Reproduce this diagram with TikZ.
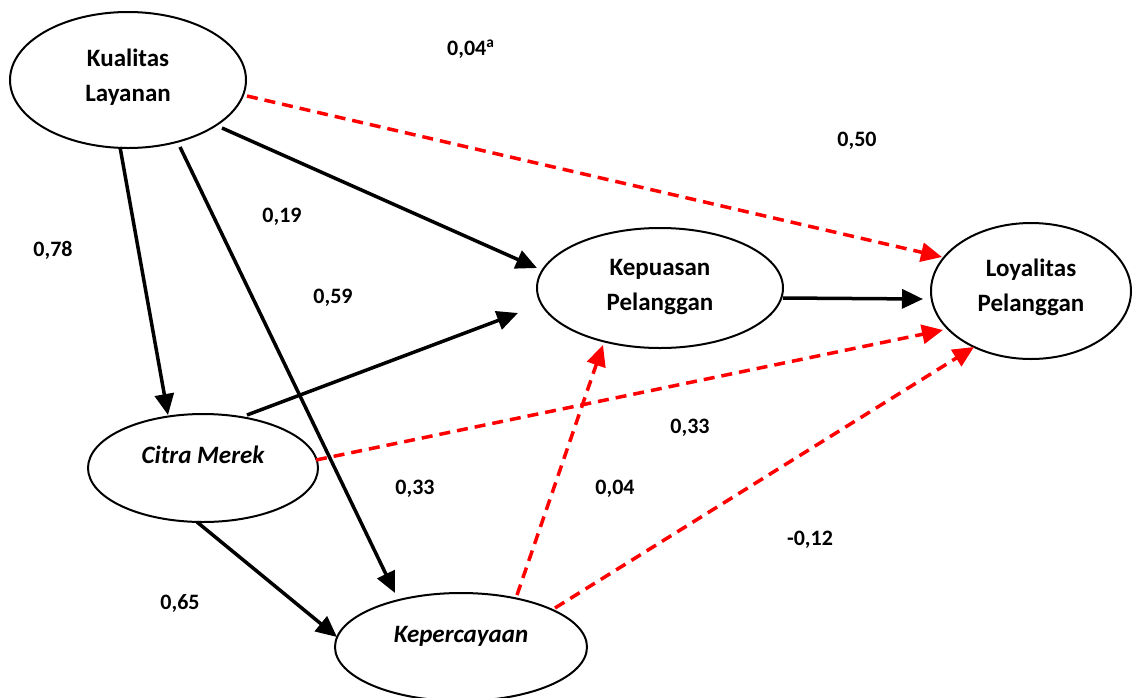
\documentclass[tikz,border=0pt]{standalone}
\usepackage{fontspec}
\setmainfont{Carlito}
\usetikzlibrary{shapes.geometric,arrows.meta,calc}
\begin{document}
\begin{tikzpicture}[x=1pt,y=-1pt,
  ell/.style={draw,ellipse,line width=2pt,inner sep=0pt},
  ttl/.style={font=\fontsize{25}{35}\selectfont\bfseries,align=center,inner sep=0pt},
  coef/.style={font=\fontsize{22}{24}\selectfont\bfseries,inner sep=0pt,anchor=base},
  solidarr/.style={line width=3.5pt,-{Triangle[length=21pt,width=19pt]}},
  dasharr/.style={line width=3.5pt,red,dash pattern=on 11pt off 7pt,-{Triangle[length=21pt,width=19pt]}}]
\useasboundingbox (0,0) rectangle (1133,697);
% ellipses
\node[ell,minimum width=236pt,minimum height=136pt] (kl) at (128,80) {};
\node[ell,minimum width=246pt,minimum height=120pt] (kp) at (660,288) {};
\node[ell,minimum width=200pt,minimum height=136pt] (ly) at (1031,291) {};
\node[ell,minimum width=230pt,minimum height=108pt] (cm) at (203,468) {};
\node[ell,minimum width=252pt,minimum height=108pt] (kc) at (461,647) {};
% texts
\node[ttl] (klt) at (128,77) {Kualitas\\Layanan};
\node[ttl] (kpt) at (660,287) {Kepuasan\\Pelanggan};
\node[ttl] (lyt) at (1031,287) {Loyalitas\\Pelanggan};
\node[ttl,anchor=base] (cmt) at (203,463) {\itshape Citra Merek};
\node[ttl,anchor=base] (kct) at (461,642) {\itshape Kepercayaan};
% connectors
\draw[solidarr] ($(kl)+(-8,67)$) -- ($(cm)+(-35,-53)$);
\draw[solidarr] ($(kl)+(52,67)$) -- ($(kc)+(-66,-54)$);
\draw[solidarr] ($(kl)+(94,48)$) -- ($(kp)+(-123,-20)$);
\draw[dasharr] ($(kl)+(119,16)$) -- ($(ly)+(-89,-34)$);
\draw[solidarr] ($(cm)+(44,-53)$) -- ($(kp)+(-142,25)$);
\draw[dasharr] ($(cm)+(113,-8)$) -- ($(ly)+(-88,39)$);
\draw[solidarr] ($(cm)+(-6,54)$) -- ($(kc)+(-124,-10)$);
\draw[dasharr] ($(kc)+(56,-52)$) -- ($(kp)+(-57,57)$);
\draw[dasharr] ($(kc)+(94,-39)$) -- ($(ly)+(-57,56)$);
\draw[solidarr] ($(kp)+(123,10)$) -- ($(ly)+(-108,8)$);
% coefficients
\node[coef,anchor=base west] (c1) at (447,55) {0,04\textsuperscript{a}};
\node[coef] (c2) at (53,256) {0,78};
\node[coef] (c3) at (282,222) {0,19};
\node[coef] (c4) at (333,303) {0,59};
\node[coef] (c5) at (857,146) {0,50};
\node[coef] (c6) at (690,433) {0,33};
\node[coef] (c7) at (415,494) {0,33};
\node[coef] (c8) at (615,494) {0,04};
\node[coef] (c9) at (810,545) {-0,12};
\node[coef] (c10) at (180,609) {0,65};
\end{tikzpicture}
\end{document}
